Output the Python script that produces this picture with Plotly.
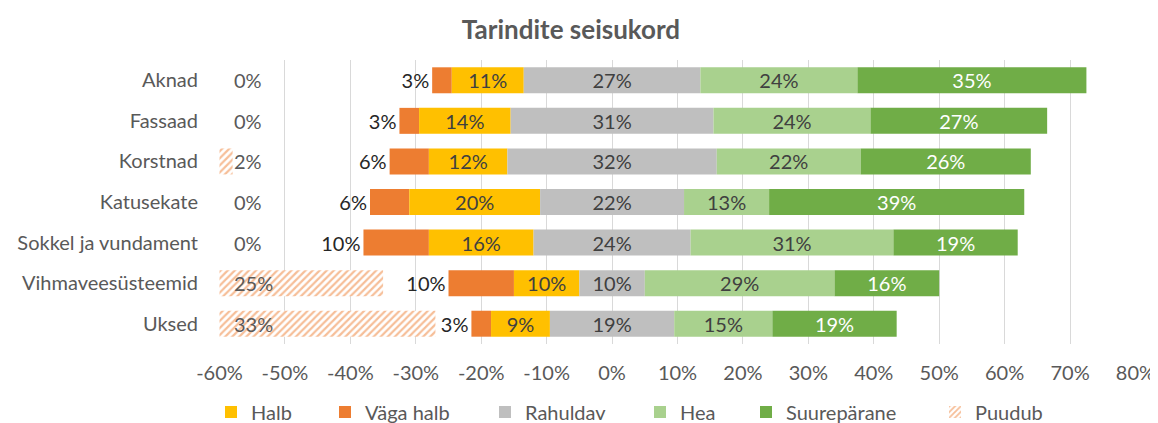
import plotly.graph_objects as go

# ---------------- data ----------------
categories = ["Aknad", "Fassaad", "Korstnad", "Katusekate",
              "Sokkel ja vundament", "Vihmaveesüsteemid", "Uksed"]
puudub = [0, 0, 2, 0, 0, 25, 33]
vaga_halb = [3, 3, 6, 6, 10, 10, 3]
halb = [11, 14, 12, 20, 16, 10, 9]
rahuldav = [27, 31, 32, 22, 24, 10, 19]
hea = [24, 24, 22, 13, 31, 29, 15]
suureparane = [35, 27, 26, 39, 19, 16, 19]

tick_values = [-60, -50, -40, -30, -20, -10, 0, 10, 20, 30, 40, 50, 60, 70, 80]
tick_labels = ["-60%", "-50%", "-40%", "-30%", "-20%", "-10%", "0%", "10%",
               "20%", "30%", "40%", "50%", "60%", "70%", "80%"]

title_text = "Tarindite seisukord"

# ---------------- style ----------------
FONT = "Lato"
FS = 20
GREY_TXT = "#595959"
DARK_TXT = "#404040"
C_HALB = "#FFC000"
C_VAGA = "#ED7D31"
C_RAH = "#BFBFBF"
C_HEA = "#A9D18E"
C_SUUR = "#70AD47"
AXIS_MIN, AXIS_MAX = -60, 80
PAD = 0.08  # tiny range padding so edge gridlines are drawn

# page body has an 8px margin; the figure is offset by it
OFF = 8
WIN_W, WIN_H = 1158, 423
W, H = WIN_W - OFF, WIN_H - OFF
# target plot area in window pixels: x 219..1136, y 60..344
ML = 219 - OFF
MR = W - (1136 - OFF)
MT = 60 - OFF
MB = H - (344 - OFF)


def pct(vals):
    return [f"{v}%" for v in vals]


half_r = [r / 2 for r in rahuldav]

fig = go.Figure()

# Puudub (hatched, from the left edge of the axis)
fig.add_trace(go.Bar(
    y=categories, x=puudub, base=[AXIS_MIN] * len(categories),
    orientation="h", name="Puudub", legend="legend6",
    marker=dict(color="white",
                line=dict(width=0),
                pattern=dict(shape="/", fgcolor=C_VAGA, bgcolor="white",
                             size=5, solidity=0.45)),
))

# Väga halb (leftmost of the diverging part; label outside to the left)
fig.add_trace(go.Bar(
    y=categories, x=[-v for v in vaga_halb],
    base=[-hr - h for hr, h in zip(half_r, halb)],
    orientation="h", name="Väga halb", legend="legend2",
    marker=dict(color=C_VAGA, line=dict(width=0)),
    text=pct(vaga_halb), textposition="outside", textangle=0,
    constraintext="none", cliponaxis=False,
    outsidetextfont=dict(family=FONT, size=FS, color="#262626"),
))

# Halb
fig.add_trace(go.Bar(
    y=categories, x=[-h for h in halb], base=[-hr for hr in half_r],
    orientation="h", name="Halb", legend="legend",
    marker=dict(color=C_HALB, line=dict(width=0)),
    text=pct(halb), textposition="inside", insidetextanchor="middle",
    textangle=0, constraintext="none",
    insidetextfont=dict(family=FONT, size=FS, color=DARK_TXT),
))

# Rahuldav (centered on 0)
fig.add_trace(go.Bar(
    y=categories, x=rahuldav, base=[-hr for hr in half_r],
    orientation="h", name="Rahuldav", legend="legend3",
    marker=dict(color=C_RAH, line=dict(width=0)),
    text=pct(rahuldav), textposition="inside", insidetextanchor="middle",
    textangle=0, constraintext="none",
    insidetextfont=dict(family=FONT, size=FS, color=DARK_TXT),
))

# Hea
fig.add_trace(go.Bar(
    y=categories, x=hea, base=half_r,
    orientation="h", name="Hea", legend="legend4",
    marker=dict(color=C_HEA, line=dict(width=0)),
    text=pct(hea), textposition="inside", insidetextanchor="middle",
    textangle=0, constraintext="none",
    insidetextfont=dict(family=FONT, size=FS, color=DARK_TXT),
))

# Suurepärane
fig.add_trace(go.Bar(
    y=categories, x=suureparane, base=[hr + e for hr, e in zip(half_r, hea)],
    orientation="h", name="Suurepärane", legend="legend5",
    marker=dict(color=C_SUUR, line=dict(width=0)),
    text=pct(suureparane), textposition="inside", insidetextanchor="middle",
    textangle=0, constraintext="none",
    insidetextfont=dict(family=FONT, size=FS, color="white"),
))

# Puudub labels, anchored at the bar base
for cat, v in zip(categories, puudub):
    fig.add_annotation(x=AXIS_MIN, y=cat, text=f"{v}%", xanchor="left",
                       xshift=12, showarrow=False,
                       font=dict(family=FONT, size=FS, color=GREY_TXT))

# Legends: one per entry so their positions match the original
plot_w = W - ML - MR
plot_h = H - MT - MB
# legend text start, in window pixels
legend_text_px = {"legend": 248, "legend2": 362, "legend3": 522,
                  "legend4": 677, "legend5": 783, "legend6": 972}
legend_y_px = 412 - OFF
leg_common = dict(orientation="h", yanchor="middle", xanchor="left",
                  bgcolor="rgba(0,0,0,0)", itemwidth=30,
                  font=dict(family=FONT, size=FS, color=GREY_TXT))
legends = {}
for key, px in legend_text_px.items():
    legends[key] = dict(leg_common,
                        x=(px - OFF - 37 - ML) / plot_w,
                        y=(H - MB - legend_y_px) / plot_h)

fig.update_layout(
    width=W, height=H,
    margin=dict(l=ML, r=MR, t=MT, b=MB, autoexpand=False),
    barmode="overlay", bargap=0.36,
    plot_bgcolor="white", paper_bgcolor="white",
    font=dict(family=FONT, size=FS, color=GREY_TXT),
    title=dict(text=f"<b>{title_text}</b>", x=(571 - OFF) / W,
               xref="container", xanchor="center",
               y=1 - (30 - OFF) / H, yref="container", yanchor="middle",
               font=dict(family=FONT, size=26, color=GREY_TXT)),
    showlegend=True,
    **legends,
)

fig.update_xaxes(range=[AXIS_MIN - PAD, AXIS_MAX + PAD], tickvals=tick_values,
                 ticktext=tick_labels, showgrid=True, gridcolor="#D9D9D9",
                 gridwidth=1, zeroline=False, showline=False, ticks="",
                 ticklabelstandoff=15, ticklabeloverflow="allow",
                 fixedrange=True,
                 tickfont=dict(family=FONT, size=FS, color=GREY_TXT))
fig.update_yaxes(autorange="reversed", showgrid=False, zeroline=False,
                 showline=False, ticks="", ticklabelstandoff=20,
                 tickfont=dict(family=FONT, size=FS, color=GREY_TXT))

fig.write_html("out.html")
